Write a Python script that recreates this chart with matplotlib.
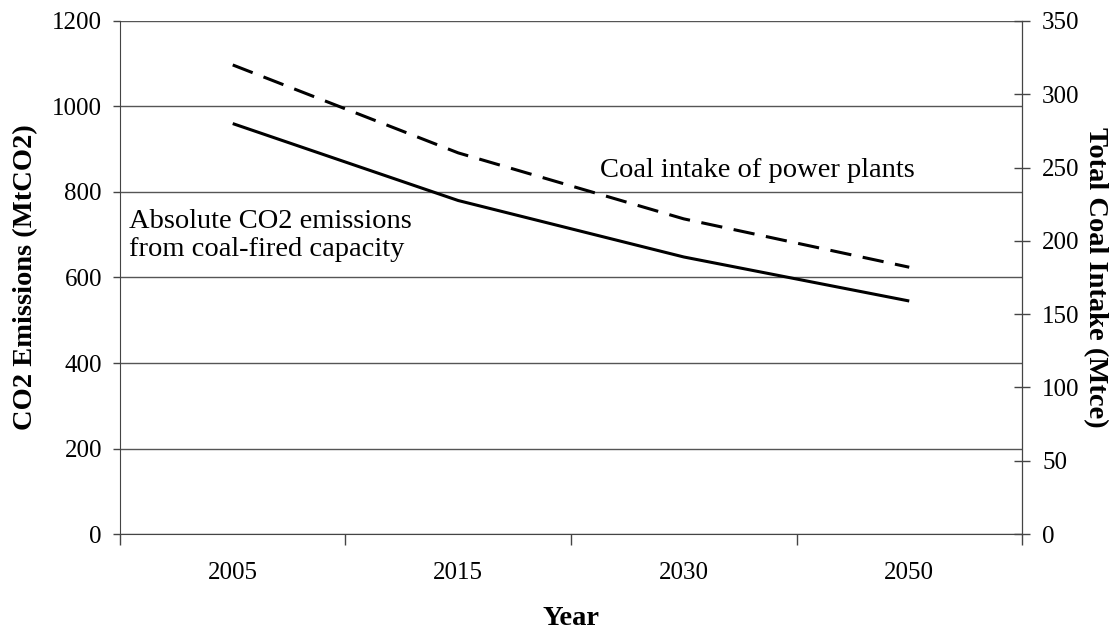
import numpy as np
import matplotlib
matplotlib.use("Agg")
import matplotlib.pyplot as plt

plt.rcParams['font.family'] = ['Liberation Serif', 'DejaVu Serif']

# data
years = ["2005", "2015", "2030", "2050"]
co2_emissions = [960, 780, 648, 545]      # MtCO2, left axis
coal_intake = [320, 260, 215, 182]        # Mtce, right axis

TICK_FS = 18
LABEL_FS = 20.5

fig = plt.figure(figsize=(11.15, 6.35), dpi=100)
ax = fig.add_axes([0.1076, 0.159, 0.809, 0.808])
ax2 = ax.twinx()

x = np.arange(len(years)) + 0.5

# left axis: emissions, solid
ax.plot(x, co2_emissions, color='black', lw=2.2, solid_capstyle='butt')
ax.set_xlim(0, len(years))
ax.set_ylim(0, 1200)
ax.set_yticks(np.arange(0, 1201, 200))
ax.yaxis.grid(True, color='#555555', lw=1.0)
ax.set_axisbelow(True)

# category ticks between the year labels
ax.set_xticks(np.arange(0, len(years) + 1), minor=False)
ax.set_xticklabels([])
ax.set_xticks(x, minor=True)
ax.set_xticklabels(years, minor=True)
ax.tick_params(axis='x', which='major', direction='out', length=8, width=1, color='#444444')
ax.tick_params(axis='x', which='minor', length=0, pad=20, labelsize=TICK_FS)
ax.tick_params(axis='y', direction='out', length=5, width=1, color='#444444', labelsize=TICK_FS, pad=8)

ax.spines['top'].set_visible(False)
ax2.spines['top'].set_visible(False)
ax.spines['left'].set_color('#444444')
ax.spines['bottom'].set_color('#444444')
ax2.spines['right'].set_color('#444444')
ax2.spines['left'].set_visible(False)
ax2.spines['bottom'].set_visible(False)

# right axis: coal intake, dashed
ax2.plot(x, coal_intake, color='black', lw=2.2, dashes=(7, 3.8))
ax2.set_ylim(0, 350)
ax2.set_yticks(np.arange(0, 351, 50))
ax2.tick_params(axis='y', direction='inout', length=11, width=1, color='#444444', labelsize=TICK_FS, pad=9)

ax.set_xlabel("Year", fontsize=LABEL_FS, fontweight='bold', labelpad=16)
ax.set_ylabel("CO2 Emissions (MtCO2)", fontsize=LABEL_FS, fontweight='bold', labelpad=10)
ax2.set_ylabel("Total Coal Intake (Mtce)", fontsize=LABEL_FS, fontweight='bold', rotation=-90, labelpad=20)

ax.text(0.038, 699, "Absolute CO2 emissions\nfrom coal-fired capacity", fontsize=LABEL_FS,
        ha='left', va='center', linespacing=1.15)
ax.text(2.825, 851, "Coal intake of power plants", fontsize=LABEL_FS, ha='center', va='center')

fig.savefig("out.png", dpi=100)
